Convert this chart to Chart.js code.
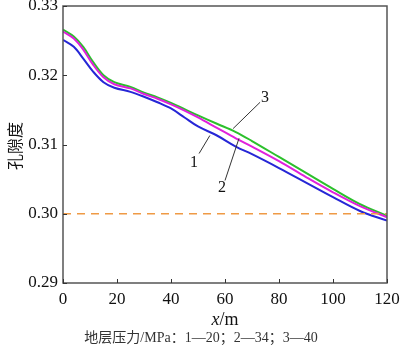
<!DOCTYPE html>
<html>
<head>
<meta charset="utf-8">
<script src="https://cdn.jsdelivr.net/npm/chart.js@4"></script>
<style>
  html, body { margin: 0; padding: 0; background: #fff; }
  #wrap { width: 400px; height: 349px; }
</style>
</head>
<body>
<div id="wrap"><canvas id="porosity"></canvas></div>
<script>
// distance along the sample, m
const xs = [0, 4, 7.5, 11, 15, 19, 25, 30, 35, 40, 45, 50, 57, 64, 70, 80, 90, 100, 110, 120];
// porosity for each formation pressure
const p20 = [0.3251, 0.3241, 0.3224, 0.3206, 0.3190, 0.3182, 0.3176, 0.3169, 0.3161, 0.3152, 0.3139, 0.3126, 0.3113, 0.3097, 0.3086, 0.3066, 0.3045, 0.3024, 0.3004, 0.2990];
const p34 = [0.3263, 0.3253, 0.3237, 0.3216, 0.3197, 0.3187, 0.3181, 0.3173, 0.3166, 0.3158, 0.3149, 0.3139, 0.3124, 0.3109, 0.3097, 0.3076, 0.3053, 0.3031, 0.3011, 0.2995];
const p40 = [0.3266, 0.3256, 0.3241, 0.3220, 0.3200, 0.3190, 0.3183, 0.3175, 0.3168, 0.3160, 0.3151, 0.3142, 0.3130, 0.3118, 0.3105, 0.3082, 0.3059, 0.3036, 0.3014, 0.2997];
const refLevel = 0.30;
const xTicks = [0, 20, 40, 60, 80, 100, 120];
const yTicks = [0.29, 0.30, 0.31, 0.32, 0.33];

// curve labels: [text, textX, textY, lineFromX, lineFromY, lineToX, lineToY] in data units
const curveLabels = [
  ['1', 48.5, 0.3074, 50.4, 0.3087, 54.4, 0.3113],
  ['2', 58.9, 0.3038, 60.0, 0.3048, 65.2, 0.3109],
  ['3', 74.8, 0.3167, 73.0, 0.3161, 63.0, 0.3123]
];

const toPts = ys => xs.map((x, i) => ({ x: x, y: ys[i] }));

function line(data, color) {
  return {
    data: toPts(data),
    borderColor: color,
    borderWidth: 2,
    pointRadius: 0,
    fill: false,
    tension: 0.35
  };
}

const serif = "'Liberation Serif', 'Times New Roman', serif";

// frame, inward ticks, curve labels and captions
const decor = {
  id: 'decor',
  afterDraw(chart) {
    const ctx = chart.ctx;
    const a = chart.chartArea;
    const sx = chart.scales.x, sy = chart.scales.y;
    ctx.save();
    ctx.strokeStyle = '#555';
    ctx.lineWidth = 1.5;
    ctx.strokeRect(a.left, a.top, a.right - a.left, a.bottom - a.top);

    ctx.lineWidth = 1;
    ctx.strokeStyle = '#333';
    ctx.beginPath();
    xTicks.forEach(v => {
      const px = Math.round(sx.getPixelForValue(v)) + 0.5;
      ctx.moveTo(px, a.bottom); ctx.lineTo(px, a.bottom - 4);
    });
    yTicks.forEach(v => {
      const py = Math.round(sy.getPixelForValue(v)) + 0.5;
      ctx.moveTo(a.left, py); ctx.lineTo(a.left + 4, py);
    });
    ctx.stroke();

    ctx.fillStyle = '#111';
    ctx.font = '16px ' + serif;
    ctx.textAlign = 'center';
    ctx.textBaseline = 'middle';
    curveLabels.forEach(l => {
      ctx.beginPath();
      ctx.moveTo(sx.getPixelForValue(l[3]), sy.getPixelForValue(l[4]));
      ctx.lineTo(sx.getPixelForValue(l[5]), sy.getPixelForValue(l[6]));
      ctx.stroke();
      ctx.fillText(l[0], sx.getPixelForValue(l[1]), sy.getPixelForValue(l[2]));
    });

    // x axis title with italic x
    const cx = (a.left + a.right) / 2;
    ctx.textAlign = 'left';
    ctx.font = 'italic 18px ' + serif;
    const w1 = ctx.measureText('x').width;
    ctx.font = '18px ' + serif;
    const w2 = ctx.measureText('/m').width;
    let tx = cx - (w1 + w2) / 2;
    ctx.font = 'italic 18px ' + serif;
    ctx.fillText('x', tx, 320);
    ctx.font = '18px ' + serif;
    ctx.fillText('/m', tx + w1, 320);

    // y axis title
    ctx.save();
    ctx.translate(15, 146);
    ctx.rotate(-Math.PI / 2);
    ctx.textAlign = 'center';
    ctx.font = "16px 'Noto Sans CJK SC', sans-serif";
    ctx.fillText('孔隙度', 0, 0);
    ctx.restore();

    ctx.textAlign = 'center';
    ctx.fillStyle = '#333';
    ctx.font = "14px 'Liberation Serif', 'Noto Sans CJK SC', serif";
    ctx.fillText('地层压力/MPa：1—20；2—34；3—40', 201, 338);
    ctx.restore();
  }
};

new Chart(document.getElementById('porosity'), {
  type: 'line',
  data: {
    datasets: [
      {
        data: [{ x: 0, y: refLevel }, { x: 120, y: refLevel }],
        borderColor: '#ef9a45',
        borderWidth: 1.6,
        borderDash: [8, 6],
        pointRadius: 0,
        fill: false
      },
      line(p20, '#2626d6'),
      line(p34, '#e020dc'),
      line(p40, '#2cc02c')
    ]
  },
  options: {
    responsive: true,
    maintainAspectRatio: false,
    animation: false,
    layout: { padding: { top: 6, right: 13, left: 0, bottom: 0 } },
    plugins: { legend: { display: false }, tooltip: { enabled: false } },
    scales: {
      x: {
        type: 'linear',
        min: 0, max: 120,
        afterBuildTicks: s => { s.ticks = xTicks.map(v => ({ value: v })); },
        afterFit: s => { s.height = 66; s.paddingLeft = 0; s.paddingRight = 0; },
        grid: { display: false, drawTicks: false },
        border: { display: false },
        ticks: { color: '#111', padding: 6, font: { family: serif, size: 17 } }
      },
      y: {
        min: 0.29, max: 0.33,
        afterBuildTicks: s => { s.ticks = yTicks.map(v => ({ value: v })); },
        afterFit: s => { s.width = 63; s.paddingTop = 0; s.paddingBottom = 0; },
        grid: { display: false, drawTicks: false },
        border: { display: false },
        ticks: {
          color: '#111', padding: 5, font: { family: serif, size: 17 },
          callback: v => v.toFixed(2)
        }
      }
    }
  },
  plugins: [decor]
});
</script>
</body>
</html>
